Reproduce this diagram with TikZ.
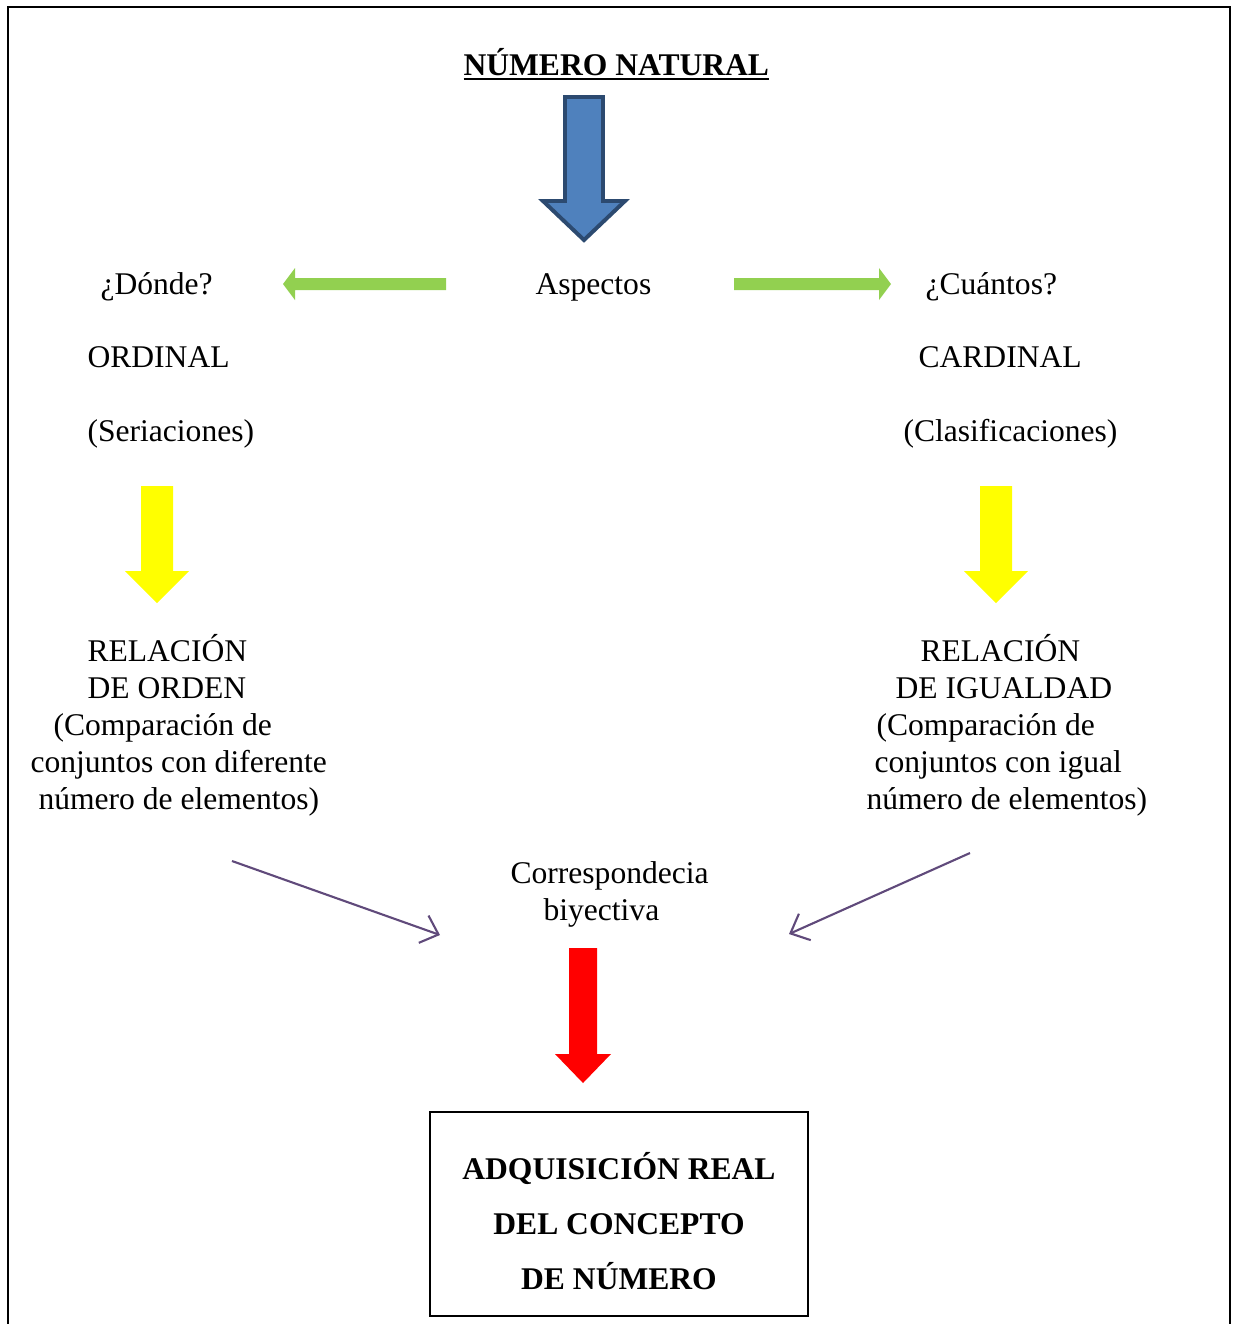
\documentclass[tikz,border=0pt]{standalone}
\usepackage{fontspec}
\setmainfont{Liberation Serif}
\usetikzlibrary{arrows.meta}
\definecolor{azul}{HTML}{4F81BD}
\definecolor{azulborde}{HTML}{2C4A70}
\definecolor{verde}{HTML}{92D050}
\definecolor{amarillo}{HTML}{FFFF00}
\definecolor{morado}{HTML}{604A7B}
\begin{document}
\begin{tikzpicture}[x=0.38pt,y=-0.38pt,
	txt/.style={anchor=base west,inner sep=0pt,font=\fontsize{12}{14}\selectfont},
	negrita/.style={anchor=base,inner sep=0pt,font=\fontsize{12}{14}\selectfont\bfseries},
	flecha/.style={morado,line width=0.8pt,-{Straight Barb[length=6pt,width=11pt]}}]
	\useasboundingbox (0,0) rectangle (1232,1324);
	\draw[line width=0.8pt] (8,1330) -- (8,7) -- (1230,7) -- (1230,1330);
	\node[negrita,anchor=base west] (titulo) at (463,75) {\underline{NÚMERO NATURAL}};
	\filldraw[fill=azul,draw=azulborde,line width=1.5pt] (565,97) -- (603,97) -- (603,201) -- (625,201) -- (584,240) -- (543,201) -- (565,201) -- cycle;
	\node[txt] (donde) at (100,294) {¿Dónde?};
	\node[txt] (aspectos) at (535,294) {Aspectos};
	\node[txt] (cuantos) at (925,294) {¿Cuántos?};
	\fill[verde] (446,278) -- (295,278) -- (295,268) -- (283,284) -- (295,300) -- (295,290) -- (446,290) -- cycle;
	\fill[verde] (734,278) -- (879,278) -- (879,268) -- (891,284) -- (879,300) -- (879,290) -- (734,290) -- cycle;
	\node[txt] (ordinal) at (87,367) {ORDINAL};
	\node[txt] (cardinal) at (918,367) {CARDINAL};
	\node[txt] (seriaciones) at (87,441) {(Seriaciones)};
	\node[txt] (clasificaciones) at (903,441) {(Clasificaciones)};
	\fill[amarillo] (141,486) -- (173,486) -- (173,571) -- (189,571) -- (157,603) -- (125,571) -- (141,571) -- cycle;
	\fill[amarillo] (980,486) -- (1012,486) -- (1012,571) -- (1028,571) -- (996,603) -- (964,571) -- (980,571) -- cycle;
	\node[txt] (orden1) at (87,661) {RELACIÓN};
	\node[txt] (orden2) at (87,698) {DE ORDEN};
	\node[txt] (orden3) at (53,735) {(Comparación de};
	\node[txt] (orden4) at (30,772) {conjuntos con diferente};
	\node[txt] (orden5) at (38,809) {número de elementos)};
	\node[txt] (igual1) at (920,661) {RELACIÓN};
	\node[txt] (igual2) at (895,698) {DE IGUALDAD};
	\node[txt] (igual3) at (876,735) {(Comparación de};
	\node[txt] (igual4) at (874,772) {conjuntos con igual};
	\node[txt] (igual5) at (866,809) {número de elementos)};
	\node[txt] (corres1) at (510,883) {Correspondecia};
	\node[txt] (corres2) at (543,920) {biyectiva};
	\coordinate (izq) at (232,861);
	\coordinate (izqfin) at (440,935);
	\coordinate (der) at (970,853);
	\coordinate (derfin) at (789,934);
	\draw[flecha] (izq) -- (izqfin);
	\draw[flecha] (der) -- (derfin);
	\fill[red] (569,948) -- (597,948) -- (597,1054) -- (611,1054) -- (583,1083) -- (555,1054) -- (569,1054) -- cycle;
	\node[draw,line width=0.8pt,minimum width=143.6pt,minimum height=77.5pt] (caja) at (619,1214) {};
	\node[negrita] (caja1) at (619,1179) {ADQUISICIÓN REAL};
	\node[negrita] (caja2) at (619,1234) {DEL CONCEPTO};
	\node[negrita] (caja3) at (619,1289) {DE NÚMERO};
\end{tikzpicture}
\end{document}
